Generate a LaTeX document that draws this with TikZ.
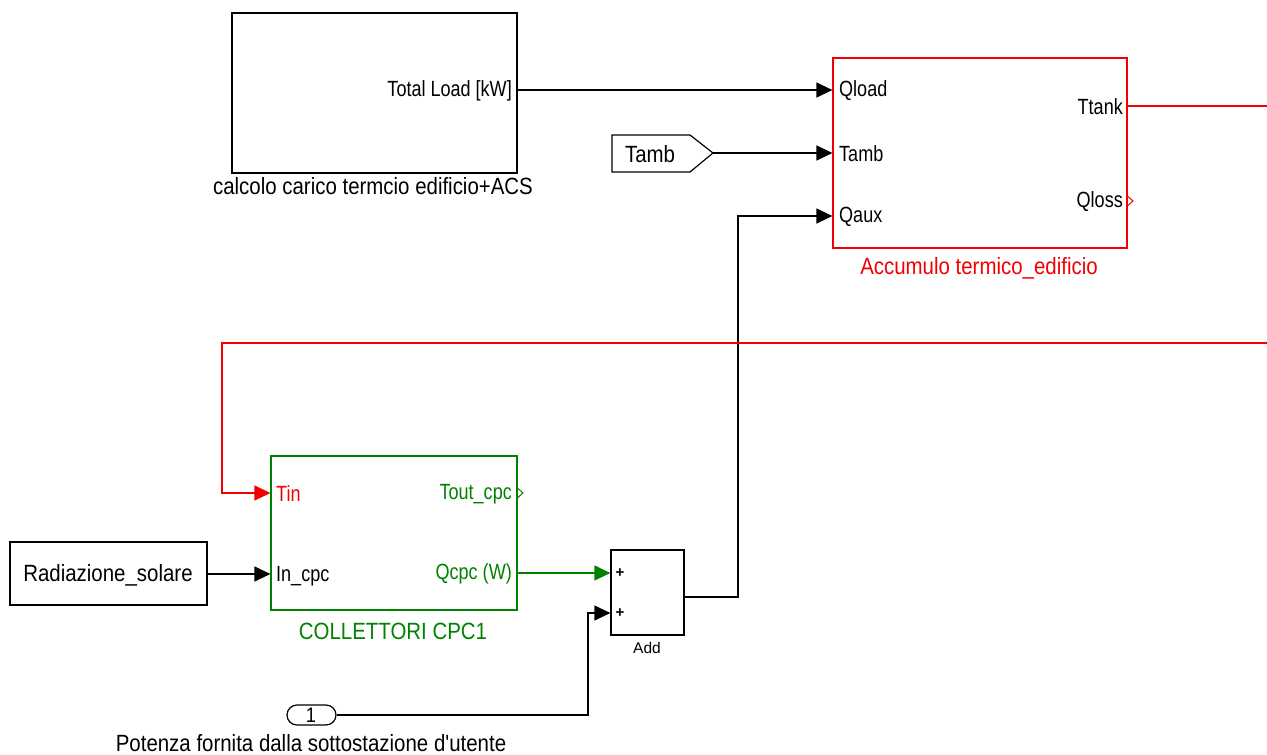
\documentclass[tikz,border=0pt]{standalone}
\usepackage{fontspec}
\setmainfont{Liberation Sans}
\newfontfamily\portfnt[FakeStretch=0.82]{Liberation Sans}
\newfontfamily\namefnt[FakeStretch=0.87]{Liberation Sans}
\usetikzlibrary{arrows.meta}
\definecolor{sred}{RGB}{240,0,0}
\definecolor{sgreen}{RGB}{0,130,0}
\tikzset{
  blk/.style={draw, line width=1.2pt, inner sep=0pt},
  wire/.style={line width=1.2pt},
  arr/.style={wire, -{Triangle[length=16pt,width=15pt]}},
  lbl/.style={font=\portfnt\fontsize{22}{24}\selectfont, inner sep=0pt},
  nm/.style={font=\namefnt\fontsize{23.5}{26}\selectfont, inner sep=0pt},
  small/.style={font=\fontsize{15.5}{17}\selectfont, inner sep=0pt},
  tiny/.style={font=\bfseries\fontsize{15}{16}\selectfont, inner sep=0pt},
}
\begin{document}
\begin{tikzpicture}[x=1pt,y=-1pt]
\useasboundingbox (0,0) rectangle (1267,755);
% blocks
\node[blk, minimum width=285pt, minimum height=160pt] (calc) at (374.5,93) {};
\node[blk, draw=sred, minimum width=294pt, minimum height=190pt] (acc) at (980,153) {};
\node[blk, draw=sgreen, minimum width=246pt, minimum height=154pt] (cpc) at (394,533) {};
\node[blk, minimum width=197pt, minimum height=63pt] (rad) at (108.5,573.5) {};
\node[blk, minimum width=73pt, minimum height=85pt] (add) at (647.5,592.5) {};
\node[blk, minimum width=49pt, minimum height=20pt, rounded corners=10pt] (in1) at (311.5,715) {};
% block captions
\node[nm] (calccap) at (373,186) {calcolo carico termcio edificio+ACS};
\node[nm, text=sred] (acccap) at (979,268) {Accumulo termico\_edificio};
\node[nm, text=sgreen] (cpccap) at (393,631) {COLLETTORI CPC1};
\node[small] (addcap) at (647,648) {Add};
\node[nm] (in1cap) at (311,743) {Potenza fornita dalla sottostazione d'utente};
\node[nm] (radtxt) at (108,575) {Radiazione\_solare};
\node[nm, font=\namefnt\fontsize{21}{22}\selectfont] (in1txt) at (311,715.5) {1};
% Tamb goto tag
\draw[wire] (612,135) -- (690,135) -- (713,153) -- (690,172) -- (612,172) -- cycle;
\coordinate (tambtip) at (713,153);
\node[nm] (tambtxt) at (650,154) {Tamb};
% port labels
\node[lbl, anchor=east] (ptl) at (512,91) {Total Load [kW]};
\node[lbl, anchor=west] (pqload) at (839,91) {Qload};
\node[lbl, anchor=west] (ptamb) at (839,154) {Tamb};
\node[lbl, anchor=west] (pqaux) at (839,217) {Qaux};
\node[lbl, anchor=east] (pttank) at (1123,107) {Ttank};
\node[lbl, anchor=east] (pqloss) at (1123,202) {Qloss};
\node[lbl, anchor=west, text=sred] (ptin) at (276,494) {Tin};
\node[lbl, anchor=west] (pincpc) at (276,576) {In\_cpc};
\node[lbl, anchor=east, text=sgreen] (ptout) at (512,494) {Tout\_cpc};
\node[lbl, anchor=east, text=sgreen] (pqcpc) at (512,574) {Qcpc (W)};
\node[tiny] (plus1) at (620,573.5) {+};
\node[tiny] (plus2) at (620,613) {+};
% open port markers
\draw[sred, line width=1pt] (1128,196.5) -- (1133,201) -- (1128,205.5);
\draw[sgreen, line width=1pt] (518,488.5) -- (523,493) -- (518,497.5);
% port coordinates
\coordinate (calcout) at (calc.east |- 0,90);
\coordinate (accin1) at (acc.west |- 0,90);
\coordinate (accin2) at (acc.west |- 0,153);
\coordinate (accin3) at (acc.west |- 0,216);
\coordinate (accout1) at (acc.east |- 0,106);
\coordinate (cpcin1) at (cpc.west |- 0,493);
\coordinate (cpcin2) at (cpc.west |- 0,574);
\coordinate (cpcout2) at (cpc.east |- 0,573);
\coordinate (addin1) at (add.west |- 0,573);
\coordinate (addin2) at (add.west |- 0,613);
\coordinate (addout) at (add.east |- 0,597);
\coordinate (redR) at (1267,106);
\coordinate (redR2) at (1267,343);
% connectors
\draw[arr] (calcout) -- (accin1);
\draw[arr] (tambtip) -- (accin2);
\draw[arr] (addout) -- (738,597) -- (738,216) -- (accin3);
\draw[wire, sred] (accout1) -- (redR);
\draw[arr, sred] (redR2) -- (222,343) -- (222,493) -- (cpcin1);
\draw[arr] (rad.east |- cpcin2) -- (cpcin2);
\draw[arr, sgreen] (cpcout2) -- (addin1);
\draw[arr] (in1.east) -- (588,715) -- (588,613) -- (addin2);
\end{tikzpicture}
\end{document}
